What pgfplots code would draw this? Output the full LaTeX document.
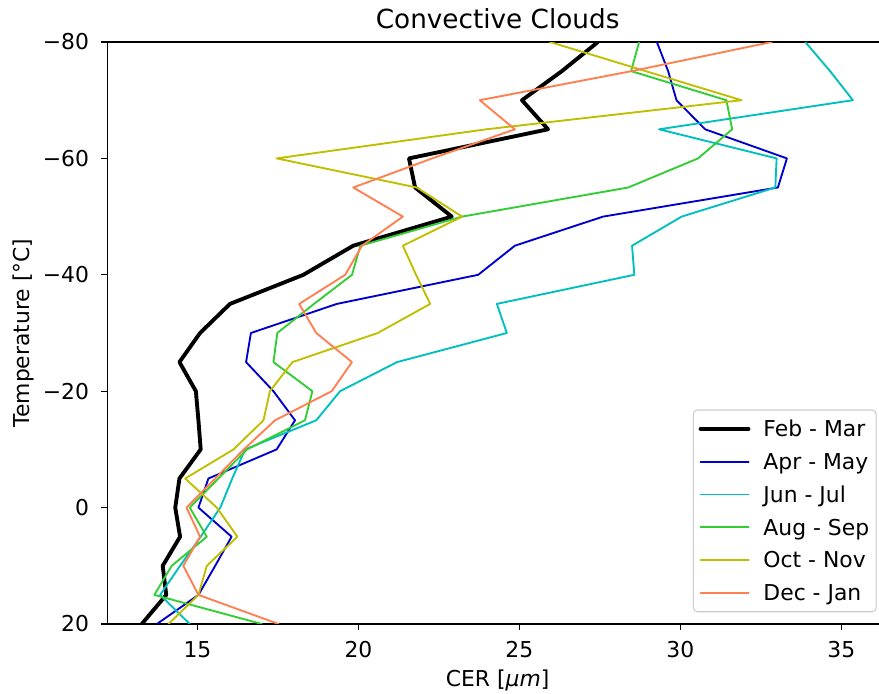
\documentclass[border=0pt]{standalone}
\usepackage{pgfplots}
\pgfplotsset{compat=1.18}
\usepackage{pgfplotstable}
\usepackage{fontspec}
\setmainfont{DejaVu Sans}

\definecolor{cFM}{RGB}{0,0,0}
\definecolor{cAM}{HTML}{0000CD}
\definecolor{cJJ}{HTML}{00BFBF}
\definecolor{cAS}{HTML}{32CD32}
\definecolor{cON}{HTML}{BFBF00}
\definecolor{cDJ}{HTML}{FF7F50}

% Mean cloud effective radius (micrometres) per temperature level, by season
\pgfplotstableread{
T    fm     am     jj     as     on     dj
20   13.27  13.74  14.76  17.00  14.10  17.52
15   14.03  15.03  13.84  13.66  15.03  15.03
10   13.92  15.55  14.46  14.20  15.29  14.56
5    14.46  16.06  15.10  15.29  16.24  15.08
0    14.31  15.03  15.71  14.76  15.60  14.66
-5   14.44  15.34  16.08  15.65  14.62  15.55
-10  15.10  17.46  16.48  16.54  16.12  16.44
-15  15.03  18.03  18.69  18.34  17.05  17.41
-20  14.95  17.36  19.43  18.57  17.25  19.17
-25  14.44  16.51  21.20  17.36  17.95  19.80
-30  15.08  16.66  24.61  17.48  20.60  18.69
-35  16.01  19.33  24.30  18.62  22.23  18.16
-40  18.29  23.72  28.57  19.80  21.79  19.59
-45  19.84  24.86  28.50  20.06  21.38  20.11
-50  22.90  27.60  30.04  23.22  23.22  21.38
-55  21.76  33.03  32.95  28.38  21.81  19.84
-60  21.57  33.31  32.99  30.55  17.46  22.29
-65  25.89  30.77  29.34  31.61  23.97  24.86
-70  25.08  29.88  35.36  31.43  31.90  23.77
-75  26.32  29.62  34.65  28.47  28.92  28.49
-80  27.44  29.27  33.88  28.72  25.95  32.84
}\cer

\begin{document}
\begin{tikzpicture}
\begin{axis}[
  name=ax,
  scale only axis,
  width=585.5pt, height=436.5pt,
  xmin=12.2, xmax=36.45,
  ymin=-80, ymax=20,
  y dir=reverse,
  xtick={15,20,25,30,35},
  xticklabels={15,20,25,30,35},
  ytick={-80,-60,-40,-20,0,20},
  yticklabels={−80,−60,−40,−20,0,20},
  xtick pos=lower, ytick pos=left,
  tick align=outside,
  major tick length=4.5pt,
  tick style={black, line width=0.8pt},
  axis line style={line width=0.8pt},
  tick label style={font=\fontsize{16.4}{19}\selectfont},
  xticklabel style={anchor=base, inner sep=0pt, yshift=-20.5pt},
  yticklabel style={anchor=east, inner sep=0pt, xshift=-9pt},
  title={Convective Clouds},
  title style={font=\fontsize{19.7}{23}\selectfont, at={(axis description cs:0.5,1)}, anchor=base, yshift=4.5pt},
  xlabel={CER [\textit{μm}]},
  xlabel style={font=\fontsize{16.4}{19}\selectfont, at={(axis description cs:0.5,0)}, anchor=base, yshift=-47.25pt},
  ylabel={Temperature [°C]},
  ylabel style={font=\fontsize{16.4}{19}\selectfont, at={(axis description cs:-0.1076,0.5)}, anchor=center},
  every axis plot/.append style={line join=round, line cap=round},
  legend cell align=left,
  legend image code/.code={\path[draw=none, fill=none] (0pt,-1pt) rectangle (46pt,1pt); \draw[#1] (0pt,0pt) -- (36pt,0pt);},
  legend style={
    at={(axis description cs:1,0)}, anchor=south east,
    xshift=-8.5pt, yshift=8.8pt,
    draw=black!20, line width=0.8pt, rounded corners=3pt,
    fill=white, fill opacity=0.8, text opacity=1, draw opacity=1,
    font=\fontsize{16.4}{19}\selectfont,
    inner xsep=4pt, inner ysep=7pt, row sep=10.3pt,
    nodes={inner sep=1.2pt, text height=11.9pt, text depth=0pt},
  },
]
\addplot[cFM, line width=2.9pt] table[x=fm, y=T] {\cer};
\addlegendentry{Feb - Mar}
\addplot[cAM, line width=1.4pt] table[x=am, y=T] {\cer};
\addlegendentry{Apr - May}
\addplot[cJJ, line width=1.4pt] table[x=jj, y=T] {\cer};
\addlegendentry{Jun - Jul}
\addplot[cAS, line width=1.4pt] table[x=as, y=T] {\cer};
\addlegendentry{Aug - Sep}
\addplot[cON, line width=1.4pt] table[x=on, y=T] {\cer};
\addlegendentry{Oct - Nov}
\addplot[cDJ, line width=1.4pt] table[x=dj, y=T] {\cer};
\addlegendentry{Dec - Jan}
\end{axis}
\pgfresetboundingbox
\path ([xshift=-80.5pt,yshift=-52.5pt]ax.south west) rectangle ([xshift=-6.75pt,yshift=31.5pt]ax.north east);
\end{tikzpicture}
\end{document}
